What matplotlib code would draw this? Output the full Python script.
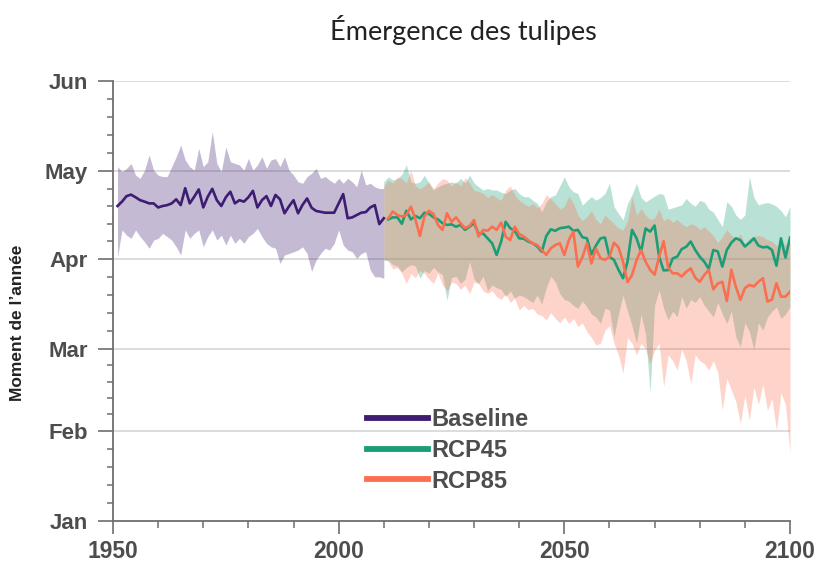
import numpy as np
import matplotlib
matplotlib.use("Agg")
import matplotlib.pyplot as plt
from matplotlib.ticker import FixedLocator
from matplotlib.lines import Line2D

# ---- data: day of year of tulip emergence ----
base_years = list(range(1951, 2011))
base_mean = [109.1, 110.6, 112.5, 113.0, 112.1, 111.1, 110.6, 110.0, 110.0, 108.6,
             109.1, 109.4, 110.0, 111.4, 109.4, 115.2, 110.0, 112.3, 114.8, 108.6,
             112.3, 115.0, 111.1, 109.1, 112.1, 114.0, 110.0, 111.1, 110.6, 112.1,
             114.3, 108.6, 111.1, 112.5, 109.1, 112.9, 111.4, 106.6, 109.0, 111.1,
             106.6, 109.5, 111.7, 108.5, 107.4, 107.1, 106.8, 106.8, 106.8, 110.0,
             113.2, 104.9, 105.2, 106.0, 106.8, 107.0, 108.6, 109.4, 102.9, 104.9]
base_upper = [122.6, 120.9, 122.0, 123.7, 119.7, 118.6, 121.4, 126.6, 121.4, 119.7,
              119.2, 119.2, 122.6, 126.0, 130.0, 124.9, 122.6, 121.4, 128.9, 122.6,
              124.3, 134.6, 123.7, 120.9, 129.4, 124.3, 123.7, 123.2, 121.4, 125.4,
              121.4, 123.2, 126.0, 122.0, 124.9, 125.4, 122.6, 126.0, 121.4, 119.7,
              117.4, 116.9, 119.2, 120.3, 122.0, 118.6, 119.2, 118.0, 116.9, 118.6,
              116.9, 118.6, 117.4, 115.7, 121.4, 116.3, 116.9, 115.7, 115.1, 115.1]
base_lower = [91.7, 100.9, 99.1, 98.0, 100.9, 98.6, 96.8, 94.6, 97.4, 98.0,
              99.7, 98.6, 97.4, 95.1, 92.3, 100.9, 98.0, 99.7, 100.9, 95.1,
              98.6, 100.9, 97.4, 99.1, 95.7, 99.1, 96.3, 98.0, 96.3, 98.6,
              99.7, 101.4, 98.6, 96.3, 95.1, 94.6, 89.4, 92.3, 92.8, 93.4,
              94.0, 95.1, 92.8, 86.6, 90.6, 92.8, 94.6, 94.0, 96.3, 100.9,
              95.7, 94.0, 93.4, 91.1, 92.8, 93.4, 87.1, 84.8, 84.8, 84.3]

proj_years = list(range(2011, 2101))
band_years = list(range(2010, 2101))

rcp45_mean = [104.5, 105.2, 105.2, 103.0, 107.5, 104.5, 105.7, 104.9, 106.8, 106.4,
              105.2, 104.5, 103.2, 102.6, 102.8, 102.0, 102.6, 100.9, 102.0, 103.2,
              99.5, 99.7, 98.0, 96.3, 92.3, 96.9, 103.7, 101.5, 100.6, 98.0,
              97.9, 96.9, 96.3, 95.2, 93.4, 98.8, 101.1, 100.6, 101.5, 101.7,
              102.0, 100.6, 100.9, 98.4, 98.0, 92.5, 95.5, 98.0, 98.3, 91.7,
              90.6, 87.2, 84.3, 90.0, 100.9, 98.0, 93.4, 101.4, 100.3, 102.4,
              91.7, 87.0, 87.1, 91.1, 91.7, 94.3, 95.1, 96.9, 94.0, 91.7,
              90.0, 87.5, 94.0, 93.5, 88.3, 94.0, 96.5, 98.0, 97.4, 95.2,
              96.5, 98.0, 95.5, 94.9, 95.1, 94.0, 88.6, 98.0, 91.4, 98.2]
rcp85_mean = [104.9, 107.2, 106.0, 105.5, 106.0, 108.9, 104.5, 98.8, 105.5, 107.5,
              106.4, 102.6, 100.9, 106.6, 103.7, 105.2, 103.2, 101.5, 102.3, 104.3,
              98.6, 100.9, 100.6, 102.0, 100.9, 103.4, 98.6, 97.4, 102.0, 99.5,
              98.6, 97.4, 96.3, 95.7, 94.0, 92.3, 94.6, 95.7, 96.3, 92.3,
              97.4, 100.3, 88.3, 91.5, 96.3, 89.4, 94.5, 91.2, 90.6, 91.7,
              96.5, 94.9, 90.0, 83.0, 85.4, 90.5, 94.0, 90.0, 87.2, 85.5,
              91.7, 97.0, 88.0, 86.0, 86.0, 84.9, 86.5, 87.7, 84.5, 83.1,
              85.4, 87.2, 80.5, 82.5, 83.1, 76.5, 87.2, 81.4, 76.9, 80.9,
              82.0, 81.5, 83.1, 84.3, 76.3, 77.0, 82.6, 78.0, 78.0, 79.7]

rcp45_upper = [117.4,
               119.1, 118.0, 118.5, 120.0, 123.2, 117.5, 116.9, 117.4, 119.7, 116.9,
               114.6, 115.7, 116.5, 116.9, 117.4, 116.9, 118.6, 117.0, 119.7, 117.0,
               115.7, 114.6, 115.1, 114.6, 114.6, 113.8, 113.4, 114.5, 115.1, 113.4,
               112.3, 112.3, 111.1, 110.0, 107.1, 110.5, 112.3, 112.9, 116.0, 119.1,
               115.7, 114.0, 113.4, 109.4, 111.0, 112.3, 111.1, 112.0, 113.4, 116.9,
               108.9, 106.5, 104.3, 110.0, 113.0, 116.9, 112.0, 110.5, 111.5, 112.5,
               113.4, 113.0, 108.0, 108.5, 109.0, 109.5, 111.7, 110.0, 109.0, 111.0,
               110.5, 108.0, 107.0, 104.5, 102.0, 110.6, 109.0, 106.0, 104.5, 106.0,
               119.1, 112.0, 109.5, 110.0, 110.3, 109.8, 109.0, 107.5, 105.4, 108.9]
rcp45_lower = [90.5,
               90.5, 89.0, 88.5, 86.5, 88.0, 89.0, 88.5, 84.3, 87.0, 86.0,
               88.0, 86.5, 85.5, 76.8, 84.5, 85.0, 82.5, 84.0, 90.0, 84.0,
               82.5, 85.0, 80.0, 82.0, 81.0, 80.5, 78.0, 80.0, 77.5, 78.5,
               78.0, 77.0, 76.0, 78.5, 75.5, 81.0, 85.0, 83.0, 79.0, 77.0,
               76.5, 75.0, 74.0, 76.5, 74.5, 72.0, 71.0, 68.8, 74.0, 73.4,
               64.2, 72.0, 78.5, 73.0, 68.0, 62.0, 72.0, 65.0, 45.0, 75.0,
               80.3, 74.0, 70.0, 73.0, 71.1, 78.0, 74.0, 77.0, 76.0, 78.0,
               75.0, 73.0, 71.0, 76.0, 72.0, 68.8, 73.0, 64.2, 60.8, 69.0,
               66.0, 59.7, 69.0, 66.5, 71.0, 73.0, 74.5, 70.5, 72.0, 74.5]
rcp85_upper = [116.0,
               118.0, 117.0, 119.0, 118.5, 117.0, 121.4, 116.0, 115.0, 116.0, 117.5,
               115.0, 117.0, 118.5, 118.0, 116.0, 117.5, 116.0, 118.8, 117.0, 114.5,
               114.0, 113.5, 112.0, 113.0, 112.0, 111.0, 114.5, 116.0, 113.0, 111.0,
               110.0, 109.0, 110.0, 108.5, 110.0, 113.0, 111.5, 110.0, 108.0, 109.0,
               112.5, 110.0, 106.0, 104.0, 105.5, 107.5, 104.5, 103.0, 106.0, 104.5,
               103.0, 101.5, 100.8, 104.0, 112.3, 106.0, 108.3, 106.0, 104.5, 105.0,
               108.0, 104.0, 105.0, 103.5, 104.5, 103.0, 102.0, 103.0, 102.5, 101.0,
               102.0, 100.5, 99.0, 96.5, 98.6, 101.0, 99.0, 98.0, 99.5, 96.0,
               98.0, 98.6, 99.0, 98.6, 97.5, 97.0, 95.5, 96.3, 96.0, 96.3]
rcp85_lower = [91.0,
               90.0, 87.5, 88.0, 86.0, 82.5, 86.0, 84.5, 87.0, 86.0, 84.0,
               82.5, 86.0, 82.0, 80.0, 83.0, 82.5, 80.5, 82.0, 79.0, 83.0,
               82.5, 80.0, 79.1, 80.0, 78.0, 77.0, 79.0, 76.0, 77.5, 73.4,
               75.0, 73.5, 74.0, 72.0, 71.5, 70.0, 72.5, 70.5, 69.0, 71.0,
               68.8, 70.5, 67.7, 69.0, 66.0, 64.0, 61.4, 62.0, 66.5, 68.0,
               62.0, 58.0, 51.7, 64.0, 62.0, 58.0, 62.0, 60.0, 55.0, 59.7,
               62.0, 47.1, 58.0, 56.0, 52.8, 60.0, 56.0, 48.2, 58.0, 56.0,
               55.0, 52.8, 56.0, 52.0, 39.1, 50.0, 46.0, 42.0, 34.5, 44.0,
               35.6, 47.0, 41.0, 48.0, 39.0, 43.0, 32.2, 45.0, 41.0, 24.2]

month_labels = ["Jan", "Feb", "Mar", "Apr", "May", "Jun"]
month_days = [1, 32, 60, 91, 121, 152]
series_labels = ["Baseline", "RCP45", "RCP85"]

# ---- style ----
c_base = "#3d1c72"
c_45 = "#1b9e77"
c_85 = "#fc6e50"
tick_col = "#4d4d4d"
axis_col = "#6e6e6e"

fig = plt.figure(figsize=(8.17, 5.71), dpi=100)
ax = fig.add_axes([113 / 817, 1 - 521 / 571, (790 - 113) / 817, (521 - 81) / 571])

for d in month_days[1:]:
    ax.axhline(d, color="#dcdcdc", lw=1.4, zorder=0)

ax.fill_between(base_years, base_lower, base_upper, color=c_base, alpha=0.3, lw=0, zorder=1)
ax.fill_between(band_years, rcp45_lower, rcp45_upper, color=c_45, alpha=0.3, lw=0, zorder=1)
ax.fill_between(band_years, rcp85_lower, rcp85_upper, color=c_85, alpha=0.3, lw=0, zorder=1)

ax.plot(base_years, base_mean, color=c_base, lw=1.9, zorder=3)
ax.plot(proj_years, rcp45_mean, color=c_45, lw=1.9, zorder=3)
ax.plot(proj_years, rcp85_mean, color=c_85, lw=1.9, zorder=4)

ax.set_xlim(1950, 2100)
ax.set_ylim(month_days[0], month_days[-1])

ax.set_xticks([1950, 2000, 2050, 2100])
ax.xaxis.set_minor_locator(FixedLocator(np.arange(1950, 2101, 10)))
ax.set_yticks(month_days)
ax.set_yticklabels(month_labels)
minor_y = []
for a, b in zip(month_days[:-1], month_days[1:]):
    minor_y.extend(np.linspace(a, b, 6)[1:-1])
ax.yaxis.set_minor_locator(FixedLocator(minor_y))

for s in ["top", "right"]:
    ax.spines[s].set_visible(False)
for s in ["left", "bottom"]:
    ax.spines[s].set_color(axis_col)
    ax.spines[s].set_linewidth(1.3)

ax.tick_params(axis="y", which="major", length=11, width=1.2, color=axis_col, pad=7,
               labelsize=16, labelcolor=tick_col)
ax.tick_params(axis="y", which="minor", length=4.5, width=1.1, color=axis_col)
ax.tick_params(axis="x", which="major", length=9.5, width=1.2, color=axis_col, pad=4,
               labelsize=16.5, labelcolor=tick_col)
ax.tick_params(axis="x", which="minor", length=5, width=1.1, color=axis_col)
for lab in ax.get_xticklabels() + ax.get_yticklabels():
    lab.set_fontfamily("Liberation Sans")
    lab.set_fontweight("bold")

fig.text(18 / 817, 1 - 323 / 571, "Moment de l\u2019ann\u00e9e", rotation=90, ha="center",
         va="center", fontsize=12.5, fontweight="bold", family="Liberation Sans", color="#222222")
fig.text(463 / 817, 1 - 30 / 571, "\u00c9mergence des tulipes", ha="center", va="center",
         fontsize=19.5, family="Lato", color="#222222")

handles = [Line2D([], [], color=c, lw=4.2) for c in (c_base, c_45, c_85)]
leg = fig.legend(handles, series_labels, loc="upper left",
                 bbox_to_anchor=(367 / 817, 1 - 408 / 571), frameon=False,
                 borderpad=0, borderaxespad=0, handlelength=2.6, handletextpad=0.13,
                 labelspacing=0.33, prop={"family": "Liberation Sans", "weight": "bold", "size": 17})
for t in leg.get_texts():
    t.set_color(tick_col)

fig.savefig("out.png", dpi=100)
